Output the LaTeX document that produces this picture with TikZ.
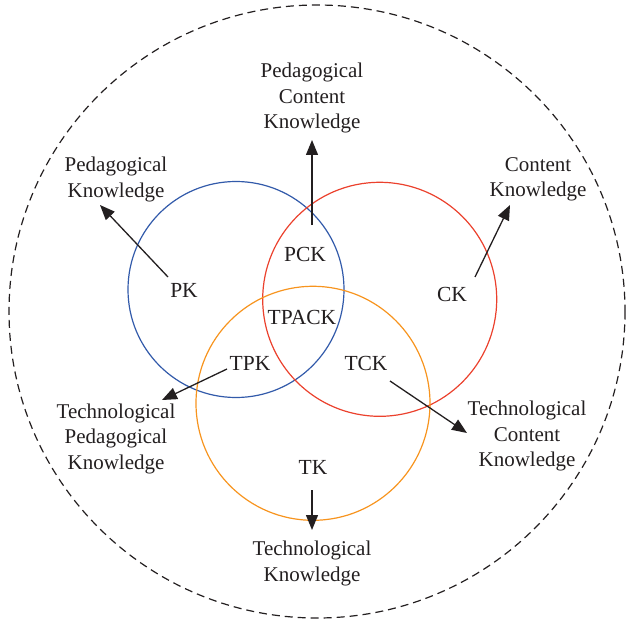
\documentclass[tikz,border=0pt]{standalone}
\usepackage{fontspec}
\setmainfont{Liberation Serif}
\usetikzlibrary{arrows.meta}
\definecolor{cblue}{RGB}{50,90,170}
\definecolor{cred}{RGB}{235,65,45}
\definecolor{corange}{RGB}{247,148,30}
\definecolor{ink}{RGB}{35,31,32}
\begin{document}
\begin{tikzpicture}[x=1pt,y=-1pt,
  lab/.style={align=center,text=ink,inner sep=0pt,font=\fontsize{21}{25.5}\selectfont},
  inlab/.style={text=ink,inner sep=0pt,font=\fontsize{21.5}{24}\selectfont},
  arr/.style={draw=ink,line width=1.3pt,-{Triangle[length=15pt,width=12pt]}},
  ring/.style={line width=1.2pt}]
\useasboundingbox (0,0) rectangle (626,631);
\draw[ink,line width=1.2pt,dash pattern=on 8pt off 5pt] (317,311.5) ellipse [x radius=308, y radius=306.5];
\draw[ring,cblue] (236,289.5) circle [radius=108];
\draw[ring,cred] (379.7,299.3) circle [radius=117];
\draw[ring,corange] (313,403.3) circle [radius=117];
% inner labels
\node[inlab] (pk) at (184,290) {PK};
\node[inlab] (pck) at (305,254) {PCK};
\node[inlab] (ck) at (452,294) {CK};
\node[inlab] (tpack) at (302,317) {TPACK};
\node[inlab] (tpk) at (250,363) {TPK};
\node[inlab] (tck) at (366,363) {TCK};
\node[inlab] (tk) at (313,467) {TK};
% outer labels
\node[lab] (pcklab) at (312,98) {Pedagogical\\Content\\Knowledge};
\node[lab] (pklab) at (116,179.5) {Pedagogical\\Knowledge};
\node[lab] (cklab) at (538,179.5) {Content\\Knowledge};
\node[lab] (tpklab) at (116,438.5) {Technological\\Pedagogical\\Knowledge};
\node[lab] (tcklab) at (527,436) {Technological\\Content\\Knowledge};
\node[lab] (tklab) at (312,563.5) {Technological\\Knowledge};
% arrow ends
\coordinate (pkS) at (168,277); \coordinate (pkE) at (100,205);
\coordinate (pckS) at (312,225); \coordinate (pckE) at (312,140);
\coordinate (ckS) at (475,277); \coordinate (ckE) at (510,205);
\coordinate (tpkS) at (227,369); \coordinate (tpkE) at (162,400);
\coordinate (tckS) at (390,381); \coordinate (tckE) at (467,433);
\coordinate (tkS) at (312,490); \coordinate (tkE) at (312,530);
\draw[arr] (pkS) -- (pkE);
\draw[arr] (pckS) -- (pckE);
\draw[arr] (ckS) -- (ckE);
\draw[arr] (tpkS) -- (tpkE);
\draw[arr] (tckS) -- (tckE);
\draw[arr] (tkS) -- (tkE);
\end{tikzpicture}
\end{document}
